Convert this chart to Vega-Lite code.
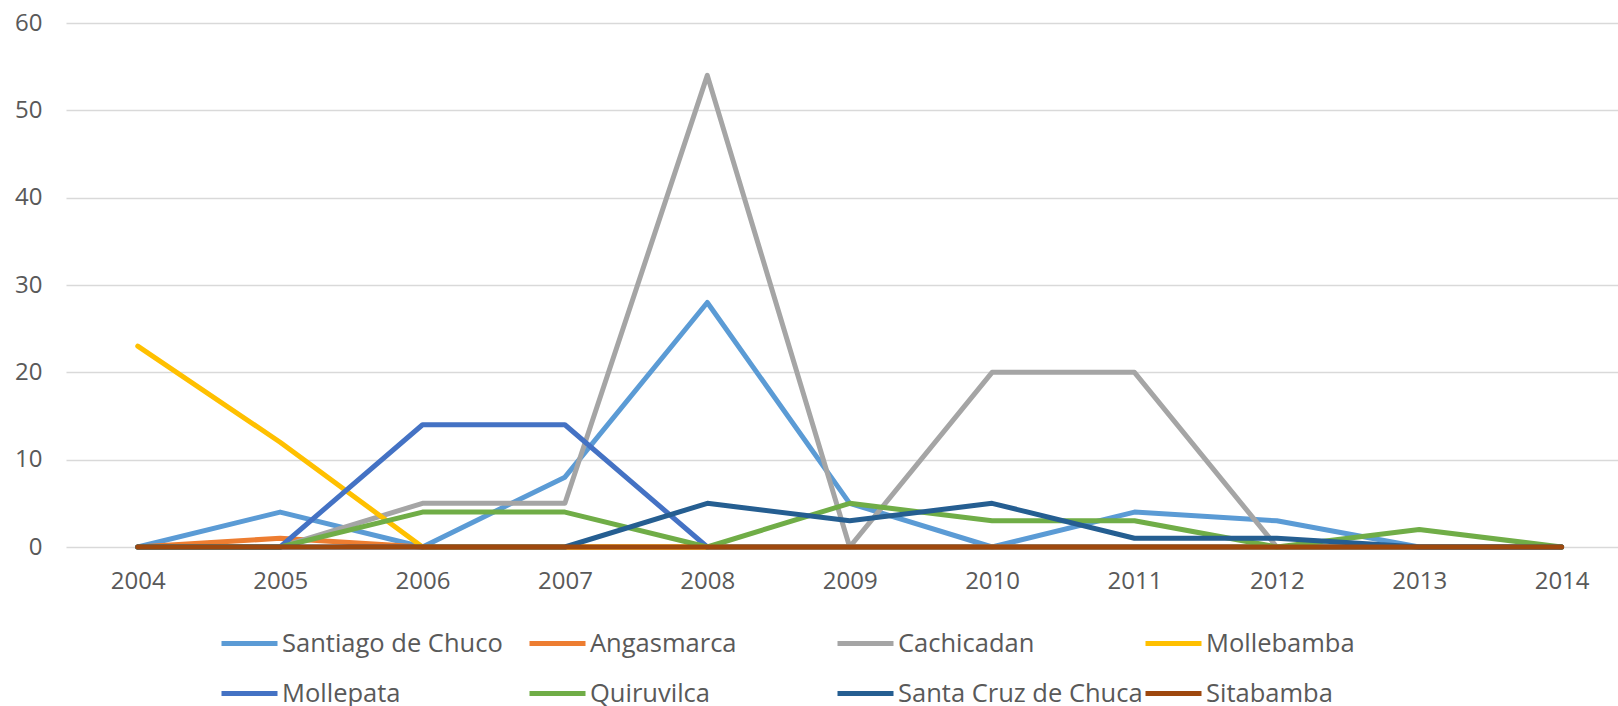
{
  "$schema": "https://vega.github.io/schema/vega-lite/v6.json",
  "autosize": {"type": "none"},
  "width": 1552,
  "height": 524,
  "padding": {"left": 66, "top": 23, "right": 0, "bottom": 159},
  "background": "white",
  "config": {
    "font": "Open Sans",
    "view": {"stroke": null},
    "axis": {"labelFont": "Open Sans", "labelFontSize": 24, "labelColor": "#595959", "domain": false, "ticks": false, "title": null},
    "legend": {"labelFont": "Open Sans", "labelFontSize": 25.5, "labelColor": "#595959"}
  },
  "data": {
    "values": [
      {"year": "2004", "series": "Santiago de Chuco", "value": 0},
      {"year": "2005", "series": "Santiago de Chuco", "value": 4},
      {"year": "2006", "series": "Santiago de Chuco", "value": 0},
      {"year": "2007", "series": "Santiago de Chuco", "value": 8},
      {"year": "2008", "series": "Santiago de Chuco", "value": 28},
      {"year": "2009", "series": "Santiago de Chuco", "value": 5},
      {"year": "2010", "series": "Santiago de Chuco", "value": 0},
      {"year": "2011", "series": "Santiago de Chuco", "value": 4},
      {"year": "2012", "series": "Santiago de Chuco", "value": 3},
      {"year": "2013", "series": "Santiago de Chuco", "value": 0},
      {"year": "2014", "series": "Santiago de Chuco", "value": 0},
      {"year": "2004", "series": "Angasmarca", "value": 0},
      {"year": "2005", "series": "Angasmarca", "value": 1},
      {"year": "2006", "series": "Angasmarca", "value": 0},
      {"year": "2007", "series": "Angasmarca", "value": 0},
      {"year": "2008", "series": "Angasmarca", "value": 0},
      {"year": "2009", "series": "Angasmarca", "value": 0},
      {"year": "2010", "series": "Angasmarca", "value": 0},
      {"year": "2011", "series": "Angasmarca", "value": 0},
      {"year": "2012", "series": "Angasmarca", "value": 0},
      {"year": "2013", "series": "Angasmarca", "value": 0},
      {"year": "2014", "series": "Angasmarca", "value": 0},
      {"year": "2004", "series": "Cachicadan", "value": 0},
      {"year": "2005", "series": "Cachicadan", "value": 0},
      {"year": "2006", "series": "Cachicadan", "value": 5},
      {"year": "2007", "series": "Cachicadan", "value": 5},
      {"year": "2008", "series": "Cachicadan", "value": 54},
      {"year": "2009", "series": "Cachicadan", "value": 0},
      {"year": "2010", "series": "Cachicadan", "value": 20},
      {"year": "2011", "series": "Cachicadan", "value": 20},
      {"year": "2012", "series": "Cachicadan", "value": 0},
      {"year": "2013", "series": "Cachicadan", "value": 0},
      {"year": "2014", "series": "Cachicadan", "value": 0},
      {"year": "2004", "series": "Mollebamba", "value": 23},
      {"year": "2005", "series": "Mollebamba", "value": 12},
      {"year": "2006", "series": "Mollebamba", "value": 0},
      {"year": "2007", "series": "Mollebamba", "value": 0},
      {"year": "2008", "series": "Mollebamba", "value": 0},
      {"year": "2009", "series": "Mollebamba", "value": 0},
      {"year": "2010", "series": "Mollebamba", "value": 0},
      {"year": "2011", "series": "Mollebamba", "value": 0},
      {"year": "2012", "series": "Mollebamba", "value": 0},
      {"year": "2013", "series": "Mollebamba", "value": 0},
      {"year": "2014", "series": "Mollebamba", "value": 0},
      {"year": "2004", "series": "Mollepata", "value": 0},
      {"year": "2005", "series": "Mollepata", "value": 0},
      {"year": "2006", "series": "Mollepata", "value": 14},
      {"year": "2007", "series": "Mollepata", "value": 14},
      {"year": "2008", "series": "Mollepata", "value": 0},
      {"year": "2009", "series": "Mollepata", "value": 0},
      {"year": "2010", "series": "Mollepata", "value": 0},
      {"year": "2011", "series": "Mollepata", "value": 0},
      {"year": "2012", "series": "Mollepata", "value": 0},
      {"year": "2013", "series": "Mollepata", "value": 0},
      {"year": "2014", "series": "Mollepata", "value": 0},
      {"year": "2004", "series": "Quiruvilca", "value": 0},
      {"year": "2005", "series": "Quiruvilca", "value": 0},
      {"year": "2006", "series": "Quiruvilca", "value": 4},
      {"year": "2007", "series": "Quiruvilca", "value": 4},
      {"year": "2008", "series": "Quiruvilca", "value": 0},
      {"year": "2009", "series": "Quiruvilca", "value": 5},
      {"year": "2010", "series": "Quiruvilca", "value": 3},
      {"year": "2011", "series": "Quiruvilca", "value": 3},
      {"year": "2012", "series": "Quiruvilca", "value": 0},
      {"year": "2013", "series": "Quiruvilca", "value": 2},
      {"year": "2014", "series": "Quiruvilca", "value": 0},
      {"year": "2004", "series": "Santa Cruz de Chuca", "value": 0},
      {"year": "2005", "series": "Santa Cruz de Chuca", "value": 0},
      {"year": "2006", "series": "Santa Cruz de Chuca", "value": 0},
      {"year": "2007", "series": "Santa Cruz de Chuca", "value": 0},
      {"year": "2008", "series": "Santa Cruz de Chuca", "value": 5},
      {"year": "2009", "series": "Santa Cruz de Chuca", "value": 3},
      {"year": "2010", "series": "Santa Cruz de Chuca", "value": 5},
      {"year": "2011", "series": "Santa Cruz de Chuca", "value": 1},
      {"year": "2012", "series": "Santa Cruz de Chuca", "value": 1},
      {"year": "2013", "series": "Santa Cruz de Chuca", "value": 0},
      {"year": "2014", "series": "Santa Cruz de Chuca", "value": 0},
      {"year": "2004", "series": "Sitabamba", "value": 0},
      {"year": "2005", "series": "Sitabamba", "value": 0},
      {"year": "2006", "series": "Sitabamba", "value": 0},
      {"year": "2007", "series": "Sitabamba", "value": 0},
      {"year": "2008", "series": "Sitabamba", "value": 0},
      {"year": "2009", "series": "Sitabamba", "value": 0},
      {"year": "2010", "series": "Sitabamba", "value": 0},
      {"year": "2011", "series": "Sitabamba", "value": 0},
      {"year": "2012", "series": "Sitabamba", "value": 0},
      {"year": "2013", "series": "Sitabamba", "value": 0},
      {"year": "2014", "series": "Sitabamba", "value": 0}
    ]
  },
  "mark": {"type": "line", "strokeWidth": 5, "strokeCap": "round", "strokeJoin": "round"},
  "encoding": {
    "x": {
      "field": "year",
      "type": "ordinal",
      "sort": null,
      "scale": {"type": "point", "padding": 0.45, "align": 0.56},
      "axis": {"labelAngle": 0, "labelPadding": 22, "grid": false}
    },
    "y": {
      "field": "value",
      "type": "quantitative",
      "scale": {"domain": [0, 60], "nice": false},
      "axis": {"values": [0, 10, 20, 30, 40, 50, 60], "grid": true, "gridColor": "#D9D9D9", "gridWidth": 1.3, "labelPadding": 24}
    },
    "color": {
      "field": "series",
      "type": "nominal",
      "scale": {
        "domain": ["Santiago de Chuco", "Angasmarca", "Cachicadan", "Mollebamba", "Mollepata", "Quiruvilca", "Santa Cruz de Chuca", "Sitabamba"],
        "range": ["#5B9BD5", "#ED7D31", "#A5A5A5", "#FFC000", "#4472C4", "#70AD47", "#255E91", "#9E480E"]
      },
      "legend": {
        "title": null,
        "orient": "none",
        "direction": "horizontal",
        "legendX": 153,
        "legendY": 590,
        "columns": 4,
        "gridAlign": "all",
        "columnPadding": -13,
        "rowPadding": 6,
        "symbolType": "stroke",
        "symbolSize": 3136,
        "symbolStrokeWidth": 5,
        "labelOffset": 2,
        "labelLimit": 400
      }
    },
    "order": {"value": 0}
  }
}
